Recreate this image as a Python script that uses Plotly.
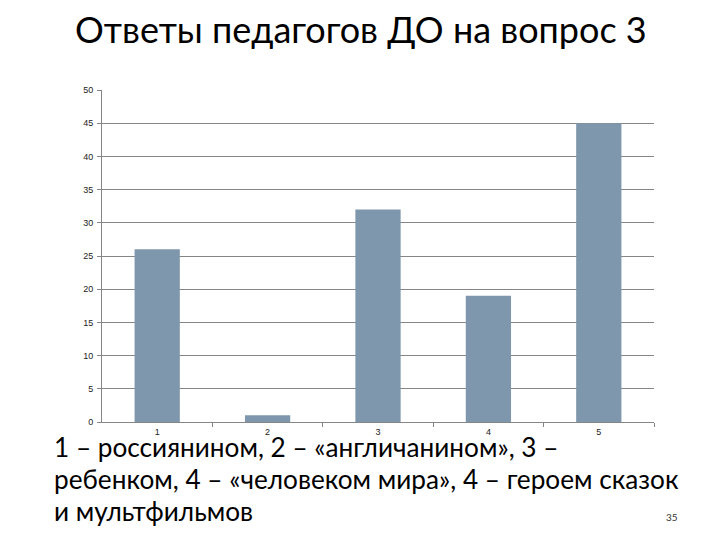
import plotly.graph_objects as go

categories = [1, 2, 3, 4, 5]
values = [26, 1, 32, 19, 45]
y_ticks = [0, 5, 10, 15, 20, 25, 30, 35, 40, 45, 50]

title_text = "Ответы педагогов ДО на вопрос 3"
caption_lines = [
    "1 – россиянином, 2 – «англичанином», 3 –",
    "ребенком, 4 – «человеком мира», 4 – героем сказок",
    "и мультфильмов",
]
page_number = "35"

fig = go.Figure()
fig.add_trace(go.Bar(
    x=categories, y=values,
    marker=dict(color="#7f97ad", line=dict(width=0)),
    width=0.41,
))

fig.update_layout(
    width=720, height=540,
    margin=dict(l=94, r=74, t=82, b=126),
    paper_bgcolor="white", plot_bgcolor="white",
    showlegend=False,
    font=dict(family="Liberation Sans, Arial", size=9, color="#222222"),
)
fig.update_xaxes(
    range=[0.5, 5.5],
    tickvals=categories, ticktext=[str(c) for c in categories],
    ticks="", showgrid=False, zeroline=False,
    showline=True, linecolor="#868686", linewidth=1,
    ticklabelstandoff=1,
    minor=dict(tickvals=[1.5, 2.5, 3.5, 4.5, 5.5], ticks="outside", ticklen=4,
               tickcolor="#868686", showgrid=False),
    tickfont=dict(size=9, color="#222222"),
)
fig.update_yaxes(
    range=[0, 50], tickvals=y_ticks,
    showgrid=True, gridcolor="#868686", gridwidth=1,
    zeroline=False, showline=True, linecolor="#868686", linewidth=1,
    ticks="outside", ticklen=4, tickcolor="#868686",
    tickfont=dict(size=9, color="#222222"),
    ticklabelstandoff=2,
)

fig.add_annotation(
    text=title_text, xref="paper", yref="paper", x=0.5, y=1,
    xanchor="center", yanchor="middle", showarrow=False,
    xshift=-17, yshift=61,
    font=dict(family="Lato", size=36, color="#000000"),
)
for i, line in enumerate(caption_lines):
    fig.add_annotation(
        text=line, xref="paper", yref="paper",
        x=0, y=0, xanchor="left", yanchor="middle", align="left",
        xshift=-50, yshift=-25 - 32 * i, showarrow=False,
        font=dict(family="Lato", size=26.2, color="#000000"),
    )
fig.add_annotation(
    text=page_number, xref="paper", yref="paper",
    x=1, y=0, xanchor="center", yanchor="middle", showarrow=False,
    xshift=18, yshift=-95,
    font=dict(family="Lato", size=10, color="#333333"),
)

fig.write_html("out.html")
